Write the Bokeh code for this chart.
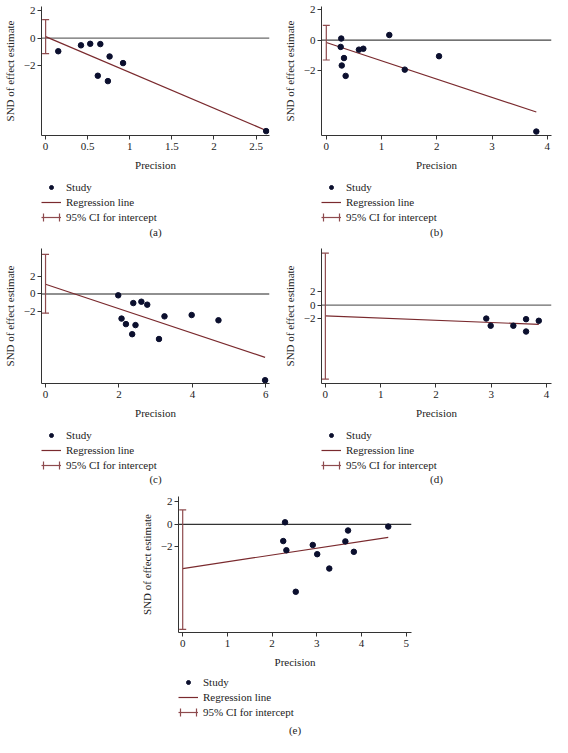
from bokeh.plotting import figure
from bokeh.models import Span, Legend, LegendItem, FixedTicker, Range1d, Spacer
from bokeh.layouts import column, row
from bokeh.core.properties import value
from bokeh.embed import file_html
from bokeh.resources import INLINE

# ---- data ----
a_prec = [0.15, 0.42, 0.53, 0.65, 0.76, 0.92, 0.62, 0.74, 2.62]
a_snd = [-0.95, -0.52, -0.41, -0.43, -1.33, -1.81, -2.73, -3.12, -6.75]
a_intercept, a_slope = 0.11, -2.6
a_ci = [-1.12, 1.34]

b_prec = [0.27, 0.26, 0.32, 0.28, 0.35, 0.59, 0.67, 1.14, 1.42, 2.04, 3.80]
b_snd = [0.10, -0.45, -1.18, -1.67, -2.35, -0.63, -0.57, 0.33, -1.94, -1.06, -6.00]
b_intercept, b_slope = -0.16, -1.2
b_ci = [-1.31, 0.96]

c_prec = [1.98, 2.07, 2.19, 2.36, 2.39, 2.45, 2.61, 2.77, 3.09, 3.24, 3.98, 4.71, 5.98]
c_snd = [-0.15, -2.76, -3.38, -4.51, -1.02, -3.49, -0.87, -1.20, -5.05, -2.51, -2.36, -2.95, -9.67]
c_intercept, c_slope = 1.09, -1.37
c_ci = [-2.15, 4.44]

d_prec = [2.91, 2.99, 3.40, 3.63, 3.63, 3.86]
d_snd = [-1.98, -3.04, -3.04, -2.07, -3.90, -2.31]
d_intercept, d_slope = -1.59, -0.324
d_ci = [-10.94, 7.71]

e_prec = [2.29, 2.25, 2.32, 2.53, 2.91, 3.01, 3.28, 3.64, 3.70, 3.83, 4.60]
e_snd = [0.18, -1.49, -2.31, -6.01, -1.84, -2.66, -3.94, -1.52, -0.55, -2.45, -0.20]
e_intercept, e_slope = -3.94, 0.602
e_ci = [-9.37, 1.28]

a_xticks = [0, 0.5, 1, 1.5, 2, 2.5]
b_xticks = [0, 1, 2, 3, 4]
c_xticks = [0, 2, 4, 6]
d_xticks = [0, 1, 2, 3, 4]
e_xticks = [0, 1, 2, 3, 4, 5]
y_ticks = [-2, 0, 2]

captions = ["(a)", "(b)", "(c)", "(d)", "(e)"]
legend_labels = ["Study", "Regression line", "95% CI for intercept"]

DOT = "#0b0f2e"
REG = "#7a2a2e"
CI = "#8e4b4e"
AX = "#333333"
TXT = "#222222"
FONT = "Liberation Serif"


def key(t):
    return int(t) if float(t).is_integer() else t


def lab(t):
    return ("%g" % t).replace("-", "\u2212")


def make_plot(prec, snd, intercept, slope, ci, xticks, xr, yr, width, height,
              bl, br, bt, bb, zero_color):
    p = figure(width=width, height=height, x_range=Range1d(*xr), y_range=Range1d(*yr),
               output_backend="svg", toolbar_location=None,
               min_border_left=bl, min_border_right=br, min_border_top=bt,
               min_border_bottom=bb)
    p.outline_line_color = None
    p.grid.visible = False

    p.add_layout(Span(location=0, dimension="width", line_color=zero_color,
                      line_width=1.2, level="underlay"))

    xs = [0, max(prec)]
    ys = [intercept + slope * x for x in xs]
    p.line(xs, ys, line_color=REG, line_width=1.2)
    p.segment(x0=[0], y0=[ci[0]], x1=[0], y1=[ci[1]], line_color=CI, line_width=1.2)
    p.scatter(x=[0, 0], y=ci, marker="dash", size=7, line_color=CI, line_width=1.2)
    p.scatter(prec, snd, size=5.5, fill_color=DOT, line_color=DOT)

    for ax in (p.xaxis[0], p.yaxis[0]):
        ax.axis_line_color = AX
        ax.major_tick_line_color = AX
        ax.major_tick_out = 4
        ax.major_tick_in = 0
        ax.minor_tick_line_color = None
        ax.major_label_text_font = FONT
        ax.major_label_text_font_size = "11px"
        ax.major_label_text_color = TXT
        ax.axis_label_text_font = FONT
        ax.axis_label_text_font_size = "11px"
        ax.axis_label_text_font_style = "normal"
        ax.axis_label_text_color = TXT

    p.xaxis.ticker = FixedTicker(ticks=xticks)
    p.xaxis.major_label_overrides = {key(t): lab(t) for t in xticks}
    p.xaxis.axis_label = "Precision"
    p.xaxis.major_label_standoff = 3
    p.xaxis.axis_label_standoff = 6

    p.yaxis.ticker = FixedTicker(ticks=y_ticks)
    p.yaxis.major_label_overrides = {key(t): lab(t) for t in y_ticks}
    p.yaxis.axis_label = "SND of effect estimate"
    p.yaxis.major_label_standoff = 2
    p.yaxis.axis_label_standoff = 5
    return p


def make_legend(width, height, bl, br, bt, caption, cap_offset):
    fh = height - bt
    q = figure(width=width, height=height, x_range=Range1d(0, 1), y_range=Range1d(fh, 0),
               output_backend="svg", toolbar_location=None,
               x_axis_location=None, y_axis_location=None,
               min_border_left=bl, min_border_right=br, min_border_top=bt,
               min_border_bottom=0)
    q.outline_line_color = None
    q.grid.visible = False
    # off-frame renderers: they only supply the legend's glyph icons
    off = -50
    r_dot = q.scatter(x=[off], y=[off], size=5, fill_color=DOT, line_color=DOT)
    r_reg = q.line(x=[off, off], y=[off, off], line_color=REG, line_width=1.2)
    r_ci = q.segment(x0=[off], y0=[off], x1=[off], y1=[off], line_color=CI, line_width=1.2)
    # outline whose dash pattern keeps only the two short end caps of the icon
    r_caps = q.quad(left=[off], right=[off], bottom=[off], top=[off], fill_color=None,
                    line_color=CI, line_width=1.2, line_dash="0 16 8 16 8")
    legend = Legend(items=[LegendItem(label=legend_labels[0], renderers=[r_dot]),
                           LegendItem(label=legend_labels[1], renderers=[r_reg]),
                           LegendItem(label=legend_labels[2], renderers=[r_ci, r_caps])],
                    location="top_left", orientation="vertical",
                    margin=0, padding=0, spacing=3,
                    glyph_width=20, glyph_height=10, label_height=10,
                    label_standoff=5,
                    label_text_font=FONT, label_text_font_size="11px",
                    label_text_color=TXT,
                    background_fill_alpha=0, border_line_color=None)
    q.add_layout(legend, "center")
    q.text(x=[0.5], y=[cap_offset - bt], text=[caption], text_align="center",
           text_baseline="middle", text_font=value(FONT), text_font_size="11px",
           text_color=TXT)
    return q


fa = make_plot(a_prec, a_snd, a_intercept, a_slope, a_ci, a_xticks,
               (-0.049, 2.66), (-7.07, 2.3), 280, 177, 37, 11, 6, 42, "#6a6a6a")
la = make_legend(280, 63, 37, 11, 4, captions[0], 54)
fb = make_plot(b_prec, b_snd, b_intercept, b_slope, b_ci, b_xticks,
               (-0.087, 4.075), (-6.26, 2.2), 272, 177, 39, 1, 6, 42, "#444444")
lb = make_legend(272, 63, 39, 1, 4, captions[1], 54)

fc = make_plot(c_prec, c_snd, c_intercept, c_slope, c_ci, c_xticks,
               (-0.11, 6.1), (-10.04, 5.1), 280, 185, 37, 11, 8, 42, "#222222")
lc = make_legend(280, 61, 37, 11, 4, captions[2], 53)
fd = make_plot(d_prec, d_snd, d_intercept, d_slope, d_ci, d_xticks,
               (-0.07, 4.09), (-11.6, 8.4), 272, 185, 39, 1, 8, 42, "#6a6a6a")
ld = make_legend(272, 61, 39, 1, 4, captions[3], 53)

fe = make_plot(e_prec, e_snd, e_intercept, e_slope, e_ci, e_xticks,
               (-0.094, 5.12), (-9.64, 2.48), 341, 188, 68, 40, 10, 42, "#333333")
le = make_legend(341, 63, 68, 40, 2, captions[4], 55)

layout = column(
    row(column(fa, la), column(fb, lb)),
    row(column(fc, lc), column(fd, ld)),
    row(Spacer(width=110, height=251), column(fe, le)),
)

open("out.html", "w").write(file_html(layout, INLINE))
